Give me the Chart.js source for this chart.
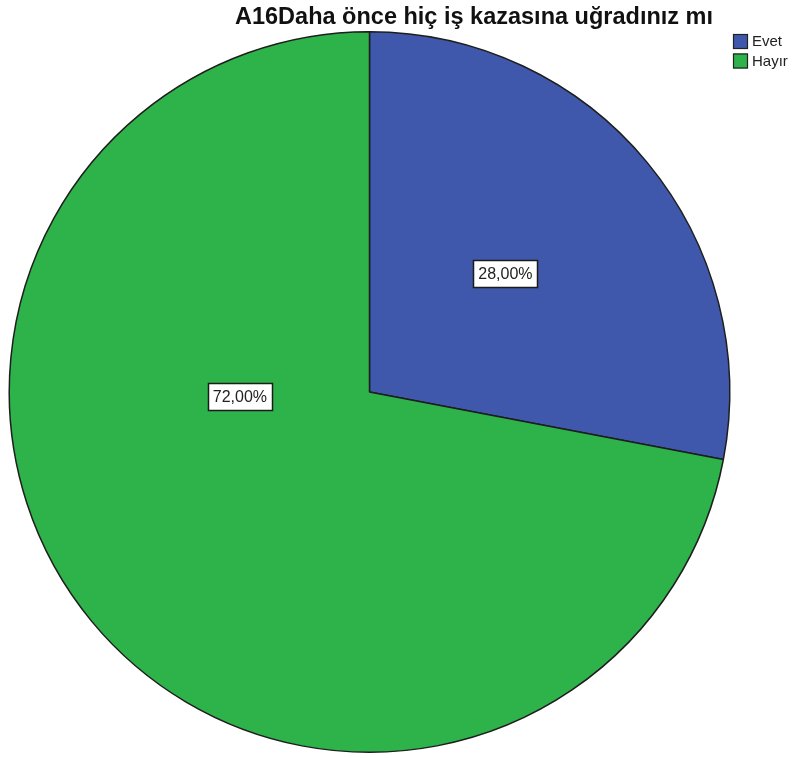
<!DOCTYPE html>
<html>
<head>
<meta charset="utf-8">
<script src="https://cdn.jsdelivr.net/npm/chart.js@4/dist/chart.umd.min.js"></script>
<style>
  html, body { margin: 0; padding: 0; background: #fff; }
  #wrap { position: relative; width: 793px; height: 758px; }
</style>
</head>
<body>
<div id="wrap"><canvas id="pieChart" width="793" height="758"></canvas></div>
<script>
// veriler
const chartTitle = 'A16Daha önce hiç iş kazasına uğradınız mı';
const categories = ['Evet', 'Hayır'];
const percentValues = [28, 72];
const sliceColors = ['#3f58ab', '#2eb34a'];

// etiket yerleşimi (dilim merkezine göre, yarıçap oranı)
const labelPlacement = [
    { angleDeg: 49, radiusFrac: 0.50 },
    { angleDeg: 268, radiusFrac: 0.36 }
];

function fmtPct(v) {
    return v.toFixed(2).replace('.', ',') + '%';
}

const spssDecor = {
    id: 'spssDecor',
    afterDatasetsDraw(chart) {
        const ctx = chart.ctx;
        const meta = chart.getDatasetMeta(0);

        // dilim etiketleri
        ctx.save();
        ctx.font = '16px "Liberation Sans", Arial, sans-serif';
        ctx.textAlign = 'center';
        ctx.textBaseline = 'middle';
        meta.data.forEach((arc, i) => {
            const p = labelPlacement[i];
            let ang = (arc.startAngle + arc.endAngle) / 2;
            if (p.angleDeg !== null) ang = (p.angleDeg - 90) * Math.PI / 180;
            const r = arc.outerRadius * p.radiusFrac;
            const cx = arc.x + Math.cos(ang) * r;
            const cy = arc.y + Math.sin(ang) * r;
            const txt = fmtPct(percentValues[i]);
            const w = ctx.measureText(txt).width + 10;
            const h = 27;
            ctx.fillStyle = '#fff';
            ctx.fillRect(Math.round(cx - w / 2) + 0.5, Math.round(cy - h / 2) + 0.5, Math.round(w), h);
            ctx.strokeStyle = '#1b1b1b';
            ctx.lineWidth = 1.5;
            ctx.strokeRect(Math.round(cx - w / 2) + 0.5, Math.round(cy - h / 2) + 0.5, Math.round(w), h);
            ctx.fillStyle = '#222';
            ctx.fillText(txt, cx, cy + 1);
        });
        ctx.restore();

        // başlık
        ctx.save();
        ctx.font = 'bold 23.5px "Liberation Sans", Arial, sans-serif';
        ctx.fillStyle = '#111';
        ctx.textAlign = 'center';
        ctx.textBaseline = 'alphabetic';
        ctx.fillText(chartTitle, 474, 23.5);
        ctx.restore();

        // lejant
        ctx.save();
        ctx.font = '15px "Liberation Sans", Arial, sans-serif';
        ctx.textBaseline = 'middle';
        categories.forEach((c, i) => {
            const y = 34 + i * 19.5;
            ctx.fillStyle = sliceColors[i];
            ctx.fillRect(733, y, 15, 15);
            ctx.strokeStyle = '#222';
            ctx.lineWidth = 1.2;
            ctx.strokeRect(733.5, y + 0.5, 14, 14);
            ctx.fillStyle = '#222';
            ctx.fillText(c, 752, y + 8);
        });
        ctx.restore();
    }
};

new Chart(document.getElementById('pieChart'), {
    type: 'pie',
    data: {
        labels: categories,
        datasets: [{
            data: percentValues,
            backgroundColor: sliceColors,
            borderColor: '#1e1e1e',
            borderWidth: 1.5
        }]
    },
    options: {
        responsive: false,
        animation: false,
        layout: { padding: { left: 8, right: 62, top: 31, bottom: 5 } },
        plugins: {
            legend: { display: false },
            title: { display: false },
            tooltip: { enabled: false }
        }
    },
    plugins: [spssDecor]
});
</script>
</body>
</html>
